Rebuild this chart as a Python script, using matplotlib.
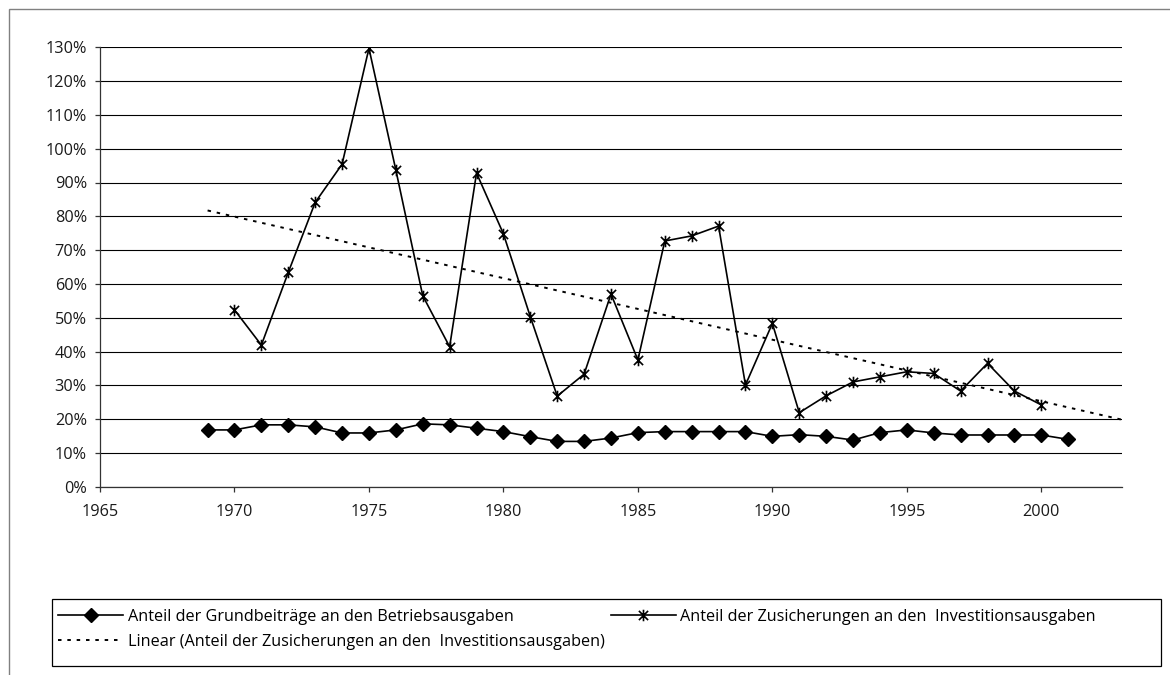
import matplotlib
matplotlib.use("Agg")
import matplotlib.pyplot as plt
import numpy as np
from matplotlib.path import Path
from matplotlib.patches import Rectangle
from matplotlib.ticker import FuncFormatter

# --- data ---
grund_years = list(range(1969, 2002))
grund_share = [16.8, 16.8, 18.3, 18.3, 17.7, 15.9, 15.9, 16.8, 18.6, 18.3,
               17.3, 16.3, 14.8, 13.4, 13.4, 14.4, 16.0, 16.3, 16.3, 16.3,
               16.3, 14.9, 15.4, 14.9, 13.8, 16.0, 16.8, 15.9, 15.3, 15.3,
               15.3, 15.3, 14.0]

zus_years = list(range(1970, 2001))
zus_share = [52.3, 41.9, 63.4, 84.1, 95.4, 129.7, 93.7, 56.5, 41.4, 92.8,
             74.8, 50.3, 26.8, 33.3, 57.0, 37.5, 72.7, 74.2, 77.1, 30.1,
             48.3, 21.9, 26.9, 31.0, 32.5, 34.0, 33.5, 28.3, 36.5, 28.3,
             24.2]

trend_years = [1969, 2003]
x_ticks = [1965, 1970, 1975, 1980, 1985, 1990, 1995, 2000]

lbl_grund = "Anteil der Grundbeiträge an den Betriebsausgaben"
lbl_zus = "Anteil der Zusicherungen an den  Investitionsausgaben"
lbl_trend = "Linear (Anteil der Zusicherungen an den  Investitionsausgaben)"

plt.rcParams['font.family'] = ['Open Sans', 'DejaVu Sans']
FS = 11.7

# asterisk marker like Excel's "star": an X plus a vertical bar
star = Path([(-1, -1), (1, 1), (-1, 1), (1, -1), (0, -1.25), (0, 1.25)],
            [Path.MOVETO, Path.LINETO, Path.MOVETO, Path.LINETO,
             Path.MOVETO, Path.LINETO])

fig = plt.figure(figsize=(11.7, 6.75), dpi=100)
W, H = 1170, 675
ax = fig.add_axes([100 / W, 1 - 486.7 / H, (1122 - 100) / W, (486.7 - 47.3) / H])

g = np.array(grund_share) / 100
z = np.array(zus_share) / 100

# linear trend of the Zusicherungen series (as Excel's trendline)
coef = np.polyfit(zus_years, z, 1)
ty = np.polyval(coef, trend_years)

tr, = ax.plot(trend_years, ty, color='black', lw=1.4, dashes=(1.8, 3.0),
              zorder=3)
gl, = ax.plot(grund_years, g, color='black', lw=1.2, marker='D', markersize=6.8,
              zorder=4)
zl, = ax.plot(zus_years, z, color='black', lw=1.2, marker=star, markersize=8.3,
              markeredgewidth=1.2, markerfacecolor='none', zorder=4)

ax.set_xlim(1965, 2003)
ax.set_ylim(0, 1.3)
ax.set_xticks(x_ticks)
ax.set_yticks(np.arange(0, 1.31, 0.1))
ax.yaxis.set_major_formatter(FuncFormatter(lambda v, p: f"{v*100:.0f}%"))
ax.yaxis.grid(True, color='black', lw=0.8)
ax.set_axisbelow(True)
for s in ['top', 'right']:
    ax.spines[s].set_visible(False)
for s in ['left', 'bottom']:
    ax.spines[s].set_color('#333333')
    ax.spines[s].set_linewidth(0.9)
ax.tick_params(direction='out', length=3.5, width=0.9, color='#333333',
               labelsize=FS, labelcolor='#1a1a1a')
ax.tick_params(axis='y', pad=6)
ax.tick_params(axis='x', pad=9)

# chart area frame (runs off the image right and bottom)
fig.patches.append(Rectangle((9 / W, -0.2), 2.0, (H - 9) / H + 0.2,
                             transform=fig.transFigure, fill=False,
                             edgecolor='#808080', lw=1.0))
# legend frame
fig.patches.append(Rectangle((52 / W, 1 - 666 / H), (1161 - 52) / W, (666 - 599) / H,
                             transform=fig.transFigure, fill=False,
                             edgecolor='black', lw=0.9))

kw = dict(frameon=False, handlelength=4.0, handletextpad=0.3,
          labelspacing=0.55, borderpad=0, borderaxespad=0, fontsize=FS)
leg1 = fig.legend([gl, tr], [lbl_grund, lbl_trend], loc='upper left',
                  bbox_to_anchor=(58 / W, 1 - 609 / H), **kw)
leg2 = fig.legend([zl], [lbl_zus], loc='upper right',
                  bbox_to_anchor=(1096 / W, 1 - 609 / H), **kw)

fig.savefig("out.png", dpi=100)
